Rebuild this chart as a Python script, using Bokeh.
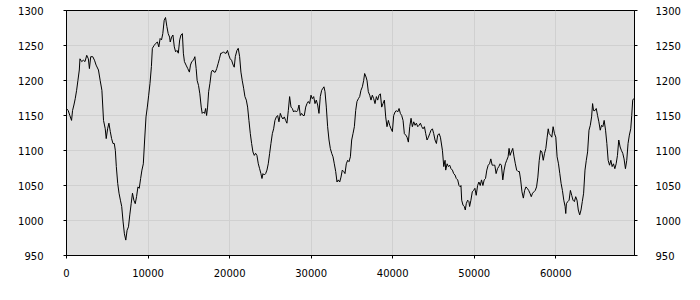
from bokeh.plotting import figure
from bokeh.models import LinearAxis, FixedTicker, Range1d
from bokeh.embed import file_html
from bokeh.resources import INLINE

# ---- data ----
x_a = [0, 210, 410, 620, 740, 910, 1070, 1240, 1400, 1570,
       1650, 1860, 2070, 2270, 2480, 2680, 2810, 2970, 3220, 3430,
       3630, 3920, 4130, 4340, 4540, 4750, 4870, 5040, 5200, 5370,
       5530, 5700, 5860, 5990, 6110, 6280, 6440, 6610, 6770, 6940,
       7100, 7270, 7430, 7600, 7760, 7930, 8090, 8260, 8430, 8590,
       8760, 8920, 9090, 9250, 9420, 9580, 9750, 9910, 10080, 10240,
       10410, 10530, 10740, 10940, 11150, 11320, 11480, 11650, 11810, 11980,
       12140, 12310, 12470, 12640, 12720, 12890, 13050, 13220, 13380, 13550,
       13710, 13880, 14040, 14210, 14330, 14460, 14660, 14870, 15070, 15200,
       15360, 15570, 15740, 15900, 16020, 16190, 16350, 16520, 16640, 16810,
       16930, 17060, 17180, 17300, 17430, 17590, 17760, 17920, 18090, 18250,
       18420, 18590, 18750, 18920, 19080, 19250, 19410, 19580, 19740, 19910,
       20070, 20240, 20440, 20570]
y_a = [1160, 1157, 1150, 1143, 1157, 1165, 1174, 1186, 1200, 1215,
       1231, 1227, 1229, 1227, 1236, 1231, 1217, 1234, 1234, 1229,
       1222, 1215, 1200, 1186, 1143, 1131, 1117, 1131, 1139, 1127,
       1117, 1110, 1110, 1100, 1077, 1053, 1039, 1029, 1020, 998,
       981, 972, 986, 991, 1008, 1024, 1039, 1029, 1024, 1034,
       1048, 1046, 1060, 1072, 1081, 1115, 1148, 1162, 1179, 1196,
       1220, 1246, 1250, 1253, 1255, 1248, 1260, 1258, 1267, 1286,
       1290, 1277, 1267, 1262, 1255, 1262, 1265, 1248, 1241, 1243,
       1239, 1258, 1265, 1267, 1239, 1227, 1222, 1217, 1212, 1222,
       1227, 1229, 1234, 1217, 1200, 1193, 1181, 1162, 1153, 1155,
       1153, 1160, 1150, 1162, 1184, 1196, 1212, 1215, 1212, 1212,
       1217, 1224, 1231, 1239, 1239, 1241, 1239, 1239, 1243, 1236,
       1231, 1229, 1222, 1219]

x_b = [20700, 20900, 21060, 21230, 21390, 21550, 21720, 21880, 22050, 22210,
       22370, 22540, 22700, 22860, 23030, 23190, 23350, 23520, 23680, 23840,
       23970, 24090, 24250, 24420, 24580, 24740, 24910, 25070, 25240, 25400,
       25560, 25730, 25890, 26050, 26220, 26380, 26540, 26710, 26870, 27030,
       27200, 27360, 27530, 27690, 27850, 28020, 28180, 28340, 28510, 28670,
       28830, 29000, 29160, 29330, 29490, 29650, 29820, 29980, 30140, 30310,
       30470, 30630, 30800, 30960, 31120, 31290, 31450, 31570, 31700, 31860,
       32020, 32190, 32350, 32520, 32680, 32840, 33010, 33170, 33330, 33500,
       33660, 33820, 33990, 34150, 34310, 34480, 34640, 34810, 34970, 35130,
       35300, 35460, 35620, 35790, 35950, 36110, 36280, 36440, 36560, 36730,
       36850, 37010, 37180, 37340, 37500, 37670, 37830, 38000, 38160, 38320,
       38490, 38650, 38810, 38980, 39140, 39300, 39470, 39630, 39800, 39960,
       40120, 40290, 40450, 40610, 40780, 40940, 41100, 41270, 41430, 41600,
       41760, 41920, 42090, 42250, 42410, 42580, 42740, 42900, 43070, 43230,
       43400, 43560, 43720, 43890, 44050, 44210, 44380, 44540, 44700, 44870,
       45030, 45190, 45360, 45520, 45690, 45850]
y_b = [1234, 1243, 1246, 1234, 1212, 1200, 1189, 1177, 1172, 1162,
       1143, 1124, 1110, 1098, 1093, 1096, 1093, 1081, 1074, 1067,
       1060, 1067, 1065, 1067, 1072, 1081, 1096, 1110, 1124, 1131,
       1143, 1148, 1150, 1141, 1153, 1148, 1145, 1148, 1143, 1139,
       1157, 1177, 1162, 1160, 1155, 1157, 1155, 1157, 1165, 1150,
       1153, 1150, 1150, 1162, 1167, 1170, 1167, 1179, 1174, 1177,
       1167, 1172, 1165, 1153, 1177, 1186, 1189, 1191, 1184, 1162,
       1134, 1115, 1103, 1096, 1091, 1081, 1070, 1055, 1058, 1055,
       1062, 1072, 1070, 1067, 1081, 1086, 1084, 1091, 1115, 1124,
       1134, 1157, 1170, 1174, 1177, 1186, 1191, 1200, 1210, 1205,
       1200, 1184, 1179, 1172, 1179, 1174, 1167, 1177, 1172, 1179,
       1181, 1162, 1167, 1172, 1148, 1134, 1143, 1136, 1131, 1127,
       1150, 1155, 1157, 1155, 1160, 1153, 1150, 1143, 1124, 1122,
       1119, 1112, 1134, 1146, 1134, 1141, 1136, 1139, 1134, 1136,
       1139, 1134, 1131, 1134, 1124, 1115, 1119, 1124, 1129, 1131,
       1124, 1115, 1110, 1122, 1124, 1119]

x_c = [46100, 46260, 46420, 46500, 46670, 46830, 46990, 47150, 47320, 47480,
       47640, 47800, 47970, 48130, 48290, 48370, 48460, 48620, 48780, 48900,
       49020, 49190, 49350, 49430, 49590, 49760, 49920, 50080, 50240, 50410,
       50570, 50730, 50890, 51060, 51220, 51380, 51540, 51710, 51870, 52030,
       52200, 52360, 52520, 52680, 52850, 53010, 53170, 53330, 53500, 53660,
       53820, 53980, 54150, 54270, 54390, 54550, 54720, 54880, 55040, 55200,
       55370, 55530, 55690, 55850, 56020, 56180, 56340, 56500, 56670, 56830,
       56990, 57150, 57320, 57480, 57640, 57800, 57970, 58130, 58290, 58460,
       58620, 58780, 58940, 59070, 59190, 59350, 59510, 59670, 59840, 60000,
       60160, 60330, 60490, 60650, 60810, 60980, 61140, 61220, 61300, 61460,
       61630, 61790, 61950, 62110, 62280, 62440, 62600, 62760, 62930, 63090,
       63250, 63410, 63580, 63740, 63900, 64070, 64230, 64390, 64510, 64630,
       64800, 64960, 65120, 65280, 65450, 65610, 65770, 65930, 66100, 66260,
       66420, 66590, 66750, 66910, 67070, 67240, 67400, 67560, 67720, 67890,
       68050, 68210, 68370, 68540, 68700, 68860, 69020, 69190, 69310, 69430,
       69550, 69650]
y_c = [1100, 1077, 1086, 1072, 1081, 1077, 1079, 1074, 1072, 1067,
       1065, 1060, 1058, 1050, 1048, 1050, 1029, 1022, 1020, 1015,
       1024, 1029, 1027, 1020, 1029, 1041, 1043, 1046, 1036, 1050,
       1055, 1050, 1058, 1050, 1058, 1060, 1072, 1079, 1081, 1088,
       1079, 1079, 1079, 1067, 1074, 1077, 1081, 1079, 1058, 1072,
       1081, 1086, 1091, 1103, 1093, 1098, 1103, 1091, 1081, 1072,
       1070, 1070, 1058, 1041, 1032, 1043, 1048, 1046, 1043, 1039,
       1034, 1039, 1041, 1043, 1048, 1062, 1086, 1100, 1098, 1086,
       1096, 1103, 1119, 1131, 1124, 1122, 1119, 1134, 1124, 1119,
       1091, 1081, 1067, 1053, 1043, 1029, 1020, 1010, 1024, 1027,
       1029, 1043, 1036, 1029, 1027, 1034, 1029, 1015, 1008, 1015,
       1027, 1039, 1072, 1086, 1098, 1129, 1136, 1148, 1167, 1157,
       1157, 1160, 1150, 1141, 1129, 1136, 1134, 1143, 1129, 1110,
       1086, 1079, 1086, 1077, 1081, 1074, 1081, 1093, 1115, 1105,
       1100, 1096, 1088, 1074, 1086, 1110, 1122, 1131, 1150, 1172,
       1174, 1175]

x_vals = x_a + x_b + x_c
y_vals = y_a + y_b + y_c
assert len(x_vals) == len(y_vals), (len(x_a), len(y_a), len(x_b), len(y_b), len(x_c), len(y_c))

x_ticks = [0, 10000, 20000, 30000, 40000, 50000, 60000]
y_ticks = [950, 1000, 1050, 1100, 1150, 1200, 1250, 1300]
x_end = 69650

# ---- figure ----
p = figure(width=700, height=300, output_backend="svg", toolbar_location=None,
           x_range=Range1d(0, x_end), y_range=Range1d(950, 1300),
           min_border_left=66, min_border_right=66,
           min_border_top=10, min_border_bottom=45)
p.background_fill_color = "#e0e0e0"
p.border_fill_color = "white"
p.outline_line_color = "black"
p.outline_line_width = 1

xt = FixedTicker(ticks=x_ticks)
yt = FixedTicker(ticks=y_ticks)

def style_axis(ax, standoff):
    ax.axis_line_color = "black"
    ax.major_tick_line_color = "black"
    ax.major_tick_out = 3
    ax.major_tick_in = 0
    ax.minor_tick_out = 0
    ax.minor_tick_in = 0
    ax.minor_tick_line_color = None
    ax.major_label_text_font = "DejaVu Sans"
    ax.major_label_text_font_size = "10px"
    ax.major_label_text_color = "black"
    ax.major_label_standoff = standoff

p.xaxis.ticker = xt
p.yaxis.ticker = yt
style_axis(p.xaxis[0], 10)
style_axis(p.yaxis[0], 20)

right = LinearAxis(ticker=yt)
style_axis(right, 18)
p.add_layout(right, "right")

p.xgrid.ticker = xt
p.ygrid.ticker = yt
p.xgrid.grid_line_color = "#d0d0d0"
p.ygrid.grid_line_color = "#d0d0d0"

p.line(x_vals, y_vals, line_color="black", line_width=1)

open("out.html", "w").write(file_html(p, INLINE))
